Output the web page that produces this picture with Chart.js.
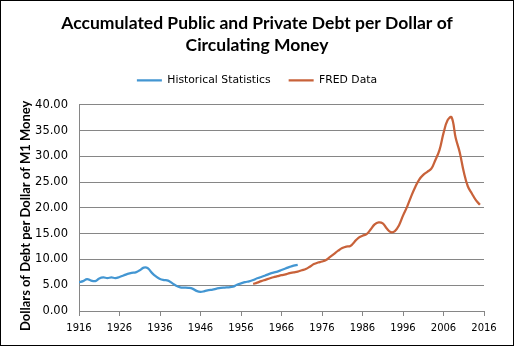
<!DOCTYPE html>
<html>
<head>
<meta charset="utf-8">
<script src="https://cdn.jsdelivr.net/npm/chart.js@4"></script>
<style>
  html, body { margin: 0; padding: 0; background: #ffffff; }
  #wrap { width: 514px; height: 346px; position: relative; }
</style>
</head>
<body>
<div id="wrap"><canvas id="myChart"></canvas></div>
<script>
// Historical Statistics series, 1916-1970
const histYears = [1916, 1917, 1918, 1919, 1920, 1921, 1922, 1923, 1924, 1925,
    1926, 1927, 1928, 1929, 1930, 1931, 1932, 1933, 1934, 1935,
    1936, 1937, 1938, 1939, 1940, 1941, 1942, 1943, 1944, 1945,
    1946, 1947, 1948, 1949, 1950, 1951, 1952, 1953, 1954, 1955,
    1956, 1957, 1958, 1959, 1960, 1961, 1962, 1963, 1964, 1965,
    1966, 1967, 1968, 1969, 1970];
const histValues = [5.6, 5.8, 6.2, 5.9, 5.8, 6.3, 6.5, 6.4, 6.5, 6.4,
    6.6, 6.9, 7.2, 7.4, 7.5, 7.9, 8.4, 8.3, 7.4, 6.7,
    6.2, 6.0, 5.9, 5.4, 4.9, 4.6, 4.55, 4.5, 4.35, 3.9,
    3.7, 3.85, 4.05, 4.15, 4.35, 4.5, 4.55, 4.6, 4.7, 5.1,
    5.35, 5.6, 5.75, 6.0, 6.35, 6.6, 6.9, 7.2, 7.45, 7.65,
    7.95, 8.25, 8.55, 8.8, 8.95];

// FRED series, 1959-2015
const fredYears = [1959, 1960, 1961, 1962, 1963, 1964, 1965, 1966, 1967, 1968,
    1969, 1970, 1971, 1972, 1973, 1974, 1975, 1976, 1977, 1978,
    1979, 1980, 1981, 1982, 1983, 1984, 1985, 1986, 1987, 1988,
    1989, 1990, 1991, 1992, 1993, 1994, 1995, 1996, 1997, 1998,
    1999, 2000, 2001, 2002, 2003, 2004, 2005, 2006, 2007, 2008,
    2009, 2010, 2011, 2012, 2013, 2014, 2015];
const fredValues = [5.25, 5.5, 5.8, 6.05, 6.3, 6.55, 6.75, 6.95, 7.1, 7.35,
    7.5, 7.65, 7.9, 8.15, 8.6, 9.1, 9.4, 9.6, 9.9, 10.5,
    11.1, 11.7, 12.2, 12.5, 12.6, 13.4, 14.2, 14.6, 14.9, 15.8,
    16.8, 17.2, 17.0, 16.0, 15.3, 15.5, 16.6, 18.5, 20.2, 22.2,
    24.0, 25.5, 26.4, 27.0, 27.6, 29.3, 31.2, 34.5, 37.0, 37.6,
    33.6, 30.8, 27.0, 24.2, 22.8, 21.5, 20.6];

const xTickYears = [1916, 1926, 1936, 1946, 1956, 1966, 1976, 1986, 1996, 2006, 2016];
const yTicks = [0, 5, 10, 15, 20, 25, 30, 35, 40];

const seriesNames = ['Historical Statistics', 'FRED Data'];
const titleLines = ['Accumulated Public and Private Debt per Dollar of', 'Circulating Money'];
const yAxisTitle = 'Dollars of Debt per Dollar of M1 Money';

function toPoints(years, values) {
    return years.map(function(year, i) {
        return { x: year, y: values[i] };
    });
}

const frame = {
    id: 'frame',
    beforeDraw(chart) {
        const c = chart.ctx;
        c.save();
        c.fillStyle = '#ffffff';
        c.fillRect(0, 0, chart.width, chart.height);
        c.restore();
    },
    afterDraw(chart) {
        const c = chart.ctx;
        c.save();
        c.strokeStyle = '#000000';
        c.lineWidth = 1;
        c.strokeRect(0.5, 0.5, chart.width - 1, chart.height - 1);
        c.restore();
    }
};

const ctx = document.getElementById('myChart');

new Chart(ctx, {
    type: 'line',
    data: {
        datasets: [{
            label: seriesNames[0],
            data: toPoints(histYears, histValues),
            borderColor: '#4396d2',
            backgroundColor: '#4396d2',
            borderWidth: 2.25,
            pointRadius: 0,
            tension: 0.4
        }, {
            label: seriesNames[1],
            data: toPoints(fredYears, fredValues),
            borderColor: '#c8623a',
            backgroundColor: '#c8623a',
            borderWidth: 2.25,
            pointRadius: 0,
            tension: 0.4
        }]
    },
    options: {
        responsive: true,
        maintainAspectRatio: false,
        animation: false,
        layout: {
            padding: { left: 30, right: 30, top: 0, bottom: 0 }
        },
        scales: {
            x: {
                type: 'linear',
                min: 1916,
                max: 2016,
                afterBuildTicks: function(scale) {
                    scale.ticks = xTickYears.map(function(v) { return { value: v }; });
                },
                afterFit: function(scale) {
                    scale.height = 35;
                },
                grid: {
                    drawOnChartArea: false,
                    color: '#868686',
                    tickLength: 5
                },
                border: { color: '#868686' },
                ticks: {
                    color: '#000000',
                    font: { family: 'DejaVu Sans', size: 10 },
                    maxRotation: 0,
                    padding: 6,
                    callback: function(value) { return String(value); }
                }
            },
            y: {
                min: 0,
                max: 40,
                afterBuildTicks: function(scale) {
                    scale.ticks = yTicks.map(function(v) { return { value: v }; });
                },
                afterFit: function(scale) {
                    scale.width = 49;
                },
                grid: {
                    color: '#868686',
                    drawTicks: false
                },
                border: { color: '#868686' },
                ticks: {
                    color: '#000000',
                    font: { family: 'DejaVu Sans', size: 11.5 },
                    padding: 11,
                    callback: function(value) { return value.toFixed(2); }
                },
                title: {
                    display: true,
                    // trailing spaces nudge the centred text down like the original
                    text: yAxisTitle + '     ',
                    color: '#000000',
                    font: { family: 'Lato', size: 13, weight: 'bold' },
                    padding: { top: -12, bottom: 0 }
                }
            }
        },
        plugins: {
            title: {
                display: true,
                text: titleLines,
                color: '#000000',
                font: { family: 'Lato', size: 17.5, weight: 'bold', lineHeight: 1.286 },
                padding: { top: 12, bottom: 0 }
            },
            subtitle: {
                // empty spacer between legend and plot
                display: true,
                text: '',
                weight: 500,
                font: { size: 1, lineHeight: 1 },
                padding: { top: 8, bottom: 0 }
            },
            legend: {
                display: true,
                position: 'top',
                labels: {
                    color: '#000000',
                    font: { family: 'DejaVu Sans', size: 10.8 },
                    usePointStyle: true,
                    pointStyle: 'line',
                    pointStyleWidth: 25,
                    padding: 18
                }
            },
            tooltip: { enabled: false }
        }
    },
    plugins: [frame]
});
</script>
</body>
</html>
